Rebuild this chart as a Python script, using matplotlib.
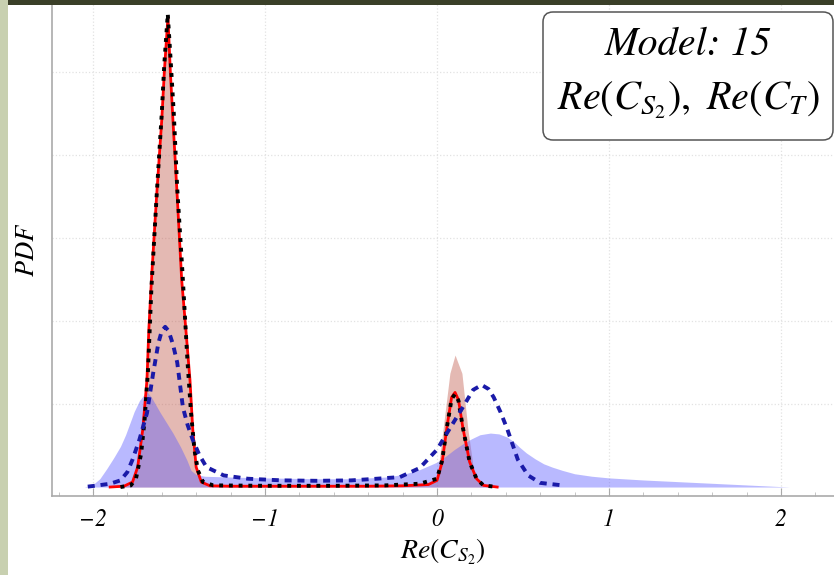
import matplotlib
matplotlib.use("Agg")
import matplotlib.pyplot as plt
from matplotlib.patches import Rectangle, FancyBboxPatch
from matplotlib.transforms import IdentityTransform
from matplotlib.ticker import MultipleLocator

# values (y in units of one grid step)
red_x = [-1.90, -1.82, -1.77, -1.74, -1.71, -1.686, -1.675, -1.66, -1.63, -1.60, -1.585, -1.564,
         -1.55, -1.535, -1.51, -1.484, -1.46, -1.436, -1.42, -1.40, -1.37, -1.32, -1.2, -0.8,
         -0.4, -0.2, -0.05, 0.0, 0.03, 0.06, 0.085, 0.105, 0.125, 0.15, 0.19, 0.23, 0.27, 0.35]
red_y = [0.0, 0.01, 0.06, 0.24, 0.7, 1.29, 1.9, 2.49, 3.5, 4.42, 5.0, 5.66,
         5.0, 4.42, 3.5, 2.49, 1.9, 1.29, 0.7, 0.24, 0.06, 0.015, 0.01, 0.01,
         0.01, 0.015, 0.03, 0.08, 0.3, 0.75, 1.08, 1.14, 1.05, 0.72, 0.3, 0.1, 0.02, 0.0]

salmon_x = [-1.90, -1.82, -1.77, -1.74, -1.71, -1.686, -1.675, -1.66, -1.63, -1.60, -1.585, -1.564,
            -1.55, -1.535, -1.51, -1.484, -1.46, -1.436, -1.42, -1.40, -1.37, -1.32, -1.2, -0.8,
            -0.4, -0.2, -0.05, 0.0, 0.035, 0.075, 0.105, 0.145, 0.18, 0.22, 0.26, 0.32]
salmon_y = [0.0, 0.01, 0.06, 0.24, 0.7, 1.29, 1.9, 2.49, 3.5, 4.42, 5.0, 5.66,
            5.0, 4.42, 3.5, 2.49, 1.9, 1.29, 0.7, 0.24, 0.06, 0.015, 0.01, 0.01,
            0.01, 0.015, 0.03, 0.1, 0.69, 1.37, 1.59, 1.37, 0.69, 0.1, 0.02, 0.0]

dot_x = [-1.84, -1.78, -1.75, -1.72, -1.70, -1.68, -1.66, -1.63, -1.60, -1.585, -1.565, -1.55,
         -1.53, -1.51, -1.48, -1.45, -1.43, -1.41, -1.39, -1.36, -1.3, -1.0, -0.6, -0.3,
         -0.1, 0.0, 0.03, 0.06, 0.085, 0.105, 0.125, 0.15, 0.19, 0.23, 0.27, 0.35]
dot_y = [0.0, 0.02, 0.1, 0.4, 0.8, 1.4, 2.4, 3.5, 4.5, 5.1, 5.7, 5.2,
         4.5, 3.6, 2.6, 1.5, 0.9, 0.45, 0.2, 0.06, 0.02, 0.015, 0.015, 0.02,
         0.04, 0.1, 0.32, 0.75, 1.06, 1.12, 1.04, 0.72, 0.3, 0.1, 0.02, 0.0]

blue_x = [-2.05, -2.0, -1.96, -1.92, -1.88, -1.84, -1.81, -1.785, -1.76, -1.73, -1.70, -1.686,
          -1.66, -1.61, -1.535, -1.49, -1.453, -1.43, -1.40, -1.35, -1.2, -1.0, -0.7, -0.5,
          -0.3, -0.2, -0.1, 0.0, 0.05, 0.1, 0.15, 0.2, 0.25, 0.31, 0.36, 0.41,
          0.45, 0.48, 0.52, 0.57, 0.62, 0.67, 0.73, 0.8, 0.9, 1.0, 1.2, 1.45,
          1.7, 1.9, 2.05]
blue_y = [0.0, 0.03, 0.1, 0.22, 0.35, 0.49, 0.63, 0.77, 0.91, 1.04, 1.12, 1.15,
          1.08, 0.9, 0.65, 0.48, 0.32, 0.2, 0.15, 0.13, 0.12, 0.11, 0.1, 0.1,
          0.12, 0.15, 0.21, 0.3, 0.37, 0.45, 0.52, 0.58, 0.63, 0.65, 0.64, 0.6,
          0.54, 0.48, 0.41, 0.34, 0.28, 0.24, 0.2, 0.16, 0.13, 0.11, 0.085, 0.06,
          0.035, 0.015, 0.0]

dash_x = [-2.03, -1.97, -1.90, -1.84, -1.80, -1.77, -1.73, -1.686, -1.65, -1.62, -1.60, -1.58,
          -1.56, -1.535, -1.51, -1.477, -1.45, -1.42, -1.38, -1.34, -1.24, -1.1, -0.9, -0.7,
          -0.5, -0.35, -0.215, -0.1, 0.0, 0.07, 0.15, 0.21, 0.26, 0.30, 0.33, 0.37,
          0.41, 0.47, 0.53, 0.60, 0.73]
dash_y = [0.005, 0.02, 0.04, 0.08, 0.18, 0.33, 0.57, 0.89, 1.37, 1.73, 1.88, 1.93,
          1.88, 1.72, 1.50, 0.96, 0.75, 0.57, 0.38, 0.24, 0.14, 0.1, 0.08, 0.075,
          0.08, 0.1, 0.12, 0.23, 0.45, 0.69, 0.96, 1.17, 1.23, 1.18, 1.08, 0.9,
          0.69, 0.33, 0.14, 0.05, 0.02]

xticks = [-2, -1, 0, 1, 2]
xtick_labels = ["\u22122", "\u22121", "0", "1", "2"]

plt.rcParams['font.family'] = ['STIXGeneral', 'DejaVu Serif']
plt.rcParams['mathtext.fontset'] = 'stix'

W, H = 834, 575
fig = plt.figure(figsize=(W / 100, H / 100), dpi=100)
ax = fig.add_axes([52 / W, 79 / H, (W - 52) / W, (H - 79) / H])

ax.fill_between(salmon_x, salmon_y, 0, color='#c0584a', alpha=0.42, lw=0, zorder=2)
ax.fill_between(blue_x, blue_y, 0, color='#5a5aff', alpha=0.42, lw=0, zorder=3)
ax.plot(red_x, red_y, color='red', lw=2, zorder=4)
ax.plot(dot_x, dot_y, color='black', lw=2.8, ls=(0, (1, 1.5)), zorder=5)
ax.plot(dash_x, dash_y, color='#1a1aa8', lw=2.8, ls=(0, (1.8, 1.5)), zorder=6)

ax.set_xlim(-2.238, 2.308)
ax.set_ylim(-0.108, 5.867)

ax.set_xticks(xticks)
ax.set_xticklabels(xtick_labels, fontsize=17, style='italic')
ax.xaxis.set_minor_locator(MultipleLocator(0.2))
ax.tick_params(axis='x', which='major', direction='in', length=6, color='#aaaaaa', pad=9)
ax.tick_params(axis='x', which='minor', direction='in', length=3, color='#bbbbbb')
ax.set_yticks([1, 2, 3, 4, 5])
ax.tick_params(axis='y', which='both', length=0, labelleft=False)

ax.grid(True, color='#e2e2e2', ls=':', lw=0.9, zorder=0)
for s in ['top', 'right']:
    ax.spines[s].set_visible(False)
for s in ['left', 'bottom']:
    ax.spines[s].set_color('#aaaaaa')
    ax.spines[s].set_linewidth(1.2)

ax.set_xlabel(r'$Re(C_{S_2})$', fontsize=20, labelpad=4)
fig.text(28 / W, 1 - 250 / H, 'PDF', rotation=90, fontsize=19, style='italic',
         ha='center', va='center')

# legend-like box at the top right
box = FancyBboxPatch((543, H - 140), 290, 128, boxstyle='round,pad=0,rounding_size=10',
                     transform=IdentityTransform(), facecolor='white',
                     edgecolor='#555555', lw=1.1, zorder=10)
fig.add_artist(box)
fig.text(688 / W, 1 - 45 / H, 'Model: 15', fontsize=29, style='italic',
         ha='center', va='center', zorder=11)
fig.text(688 / W, 1 - 100 / H, r'$Re(C_{S_2}),\ Re(C_T)$', fontsize=29,
         ha='center', va='center', zorder=11)

# screenshot edges
fig.add_artist(Rectangle((0, 0), 8, H, transform=IdentityTransform(),
                         facecolor='#c8d0b0', edgecolor='none', zorder=20))
fig.add_artist(Rectangle((8, H - 5), W - 8, 5, transform=IdentityTransform(),
                         facecolor='#3a3f28', edgecolor='none', zorder=20))

fig.savefig('out.png', dpi=100)
